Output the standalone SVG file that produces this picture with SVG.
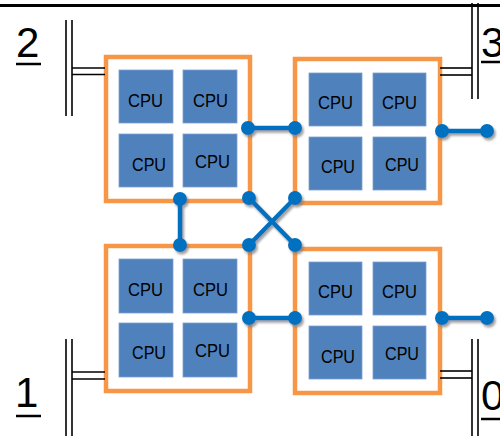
<svg xmlns="http://www.w3.org/2000/svg" width="500" height="443" viewBox="0 0 500 443">
<defs>
<filter id="sh" x="-20%" y="-20%" width="140%" height="160%">
<feDropShadow dx="1.8" dy="2.5" stdDeviation="0.8" flood-color="#7f7f7f" flood-opacity="0.75"/>
</filter>
</defs>
<style>
.box{fill:#fff;stroke:#F79646;stroke-width:4.5}
.cpu{fill:#4F81BD;stroke:#7DA0D0;stroke-width:0.8}
.ct{font-family:"Liberation Sans",Arial,sans-serif;font-size:19px;fill:#000}
.lbl{font-family:"Liberation Sans",Arial,sans-serif;font-size:42px;fill:#000}
.ul{stroke:#000;stroke-width:2.5}
.bus{stroke:#000;stroke-width:1.6;fill:none}
.ln{stroke:#0070C0;stroke-width:4.5;stroke-linecap:round}
.dot{fill:#0070C0}
</style>
<rect width="500" height="443" fill="#fff"/>
<line x1="0" y1="5.5" x2="500" y2="5.5" stroke="#000" stroke-width="3"/>

<g id="label2">
<text class="lbl" x="16" y="57">2</text>
<line class="ul" x1="16" y1="64" x2="41" y2="64"/>
</g>
<g id="label3">
<text class="lbl" x="481" y="57">3</text>
<line class="ul" x1="481" y1="62" x2="500" y2="62"/>
</g>
<g id="label1">
<text class="lbl" x="15" y="407">1</text>
<line class="ul" x1="16" y1="416" x2="41" y2="416"/>
</g>
<g id="label0">
<text class="lbl" x="481" y="410">0</text>
<line class="ul" x1="481" y1="419" x2="500" y2="419"/>
</g>

<g id="node2">
<rect class="box" x="106" y="57" width="144" height="144"/>
<rect class="cpu" x="119" y="70" width="54" height="53"/>
<rect class="cpu" x="183" y="70" width="54" height="53"/>
<rect class="cpu" x="119" y="134" width="54" height="53"/>
<rect class="cpu" x="183" y="134" width="54" height="53"/>
<text class="ct" x="128" y="107" textLength="35" lengthAdjust="spacingAndGlyphs">CPU</text>
<text class="ct" x="193" y="107" textLength="35" lengthAdjust="spacingAndGlyphs">CPU</text>
<text class="ct" x="132" y="171" textLength="34" lengthAdjust="spacingAndGlyphs">CPU</text>
<text class="ct" x="195" y="168" textLength="35" lengthAdjust="spacingAndGlyphs">CPU</text>
</g>

<g id="node3">
<rect class="box" x="295" y="59" width="145" height="144"/>
<rect class="cpu" x="309" y="73" width="53" height="53"/>
<rect class="cpu" x="373" y="73" width="53" height="53"/>
<rect class="cpu" x="309" y="137" width="53" height="53"/>
<rect class="cpu" x="373" y="137" width="53" height="53"/>
<text class="ct" x="318" y="109" textLength="35" lengthAdjust="spacingAndGlyphs">CPU</text>
<text class="ct" x="382" y="109" textLength="35" lengthAdjust="spacingAndGlyphs">CPU</text>
<text class="ct" x="321" y="173" textLength="34" lengthAdjust="spacingAndGlyphs">CPU</text>
<text class="ct" x="385" y="171" textLength="34" lengthAdjust="spacingAndGlyphs">CPU</text>
</g>

<g id="node1">
<rect class="box" x="106" y="246" width="144" height="145"/>
<rect class="cpu" x="119" y="259" width="54" height="54"/>
<rect class="cpu" x="183" y="259" width="54" height="54"/>
<rect class="cpu" x="119" y="323" width="54" height="54"/>
<rect class="cpu" x="183" y="323" width="54" height="54"/>
<text class="ct" x="128" y="296" textLength="35" lengthAdjust="spacingAndGlyphs">CPU</text>
<text class="ct" x="193" y="296" textLength="35" lengthAdjust="spacingAndGlyphs">CPU</text>
<text class="ct" x="132" y="359" textLength="34" lengthAdjust="spacingAndGlyphs">CPU</text>
<text class="ct" x="195" y="357" textLength="35" lengthAdjust="spacingAndGlyphs">CPU</text>
</g>

<g id="node0">
<rect class="box" x="295" y="249" width="145" height="144"/>
<rect class="cpu" x="309" y="262" width="53" height="53"/>
<rect class="cpu" x="373" y="262" width="53" height="53"/>
<rect class="cpu" x="309" y="326" width="53" height="53"/>
<rect class="cpu" x="373" y="326" width="53" height="53"/>
<text class="ct" x="318" y="298" textLength="35" lengthAdjust="spacingAndGlyphs">CPU</text>
<text class="ct" x="382" y="298" textLength="35" lengthAdjust="spacingAndGlyphs">CPU</text>
<text class="ct" x="321" y="363" textLength="34" lengthAdjust="spacingAndGlyphs">CPU</text>
<text class="ct" x="385" y="360" textLength="34" lengthAdjust="spacingAndGlyphs">CPU</text>
</g>

<g id="connectors">
<g id="buses">
<line class="bus" x1="66" y1="20" x2="66" y2="116"/>
<line class="bus" x1="72" y1="20" x2="72" y2="116"/>
<line class="bus" x1="72" y1="68" x2="105" y2="68"/>
<line class="bus" x1="72" y1="74.5" x2="105" y2="74.5"/>

<line class="bus" x1="472" y1="3" x2="472" y2="99"/>
<line class="bus" x1="478" y1="3" x2="478" y2="99"/>
<line class="bus" x1="440" y1="68" x2="472" y2="68"/>
<line class="bus" x1="440" y1="75" x2="472" y2="75"/>

<line class="bus" x1="66" y1="339" x2="66" y2="436"/>
<line class="bus" x1="72" y1="339" x2="72" y2="436"/>
<line class="bus" x1="72" y1="372" x2="105" y2="372"/>
<line class="bus" x1="72" y1="379" x2="105" y2="379"/>

<line class="bus" x1="472" y1="339" x2="472" y2="436"/>
<line class="bus" x1="478" y1="339" x2="478" y2="436"/>
<line class="bus" x1="440" y1="371" x2="472" y2="371"/>
<line class="bus" x1="440" y1="378" x2="472" y2="378"/>
</g>
<g id="links" filter="url(#sh)">
<line class="ln" x1="248" y1="128" x2="295" y2="128"/>
<circle class="dot" cx="248" cy="128" r="7"/>
<circle class="dot" cx="295" cy="128" r="7"/>

<line class="ln" x1="442" y1="131" x2="487" y2="131"/>
<circle class="dot" cx="442" cy="131" r="7"/>
<circle class="dot" cx="487" cy="131" r="7"/>

<line class="ln" x1="180" y1="199" x2="180" y2="245"/>
<circle class="dot" cx="180" cy="199" r="7"/>
<circle class="dot" cx="180" cy="245" r="7"/>

<line class="ln" x1="249" y1="198" x2="295" y2="245"/>
<line class="ln" x1="295" y1="198" x2="249" y2="245"/>
<circle class="dot" cx="249" cy="198" r="7"/>
<circle class="dot" cx="295" cy="198" r="7"/>
<circle class="dot" cx="249" cy="245" r="7"/>
<circle class="dot" cx="295" cy="245" r="7"/>

<line class="ln" x1="249" y1="318" x2="295" y2="318"/>
<circle class="dot" cx="249" cy="318" r="7"/>
<circle class="dot" cx="295" cy="318" r="7"/>

<line class="ln" x1="442" y1="318" x2="487" y2="318"/>
<circle class="dot" cx="442" cy="318" r="7"/>
<circle class="dot" cx="487" cy="318" r="7"/>
</g>
</g>
</svg>
